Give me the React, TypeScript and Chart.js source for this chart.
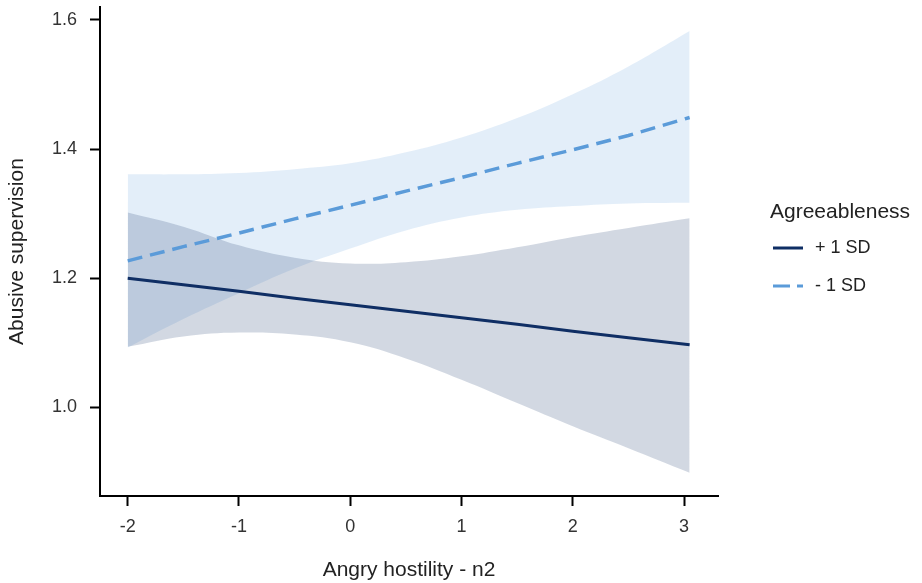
import React, { useEffect, useRef } from "react";
import { Chart, registerables } from "chart.js";

Chart.register(...registerables);

// x positions (Angry hostility - n2)
const xs = [-2, -1.5, -1, -0.5, 0, 0.5, 1, 1.5, 2, 2.5, 3.05];
// Agreeableness +1 SD
const plusLine = [1.2, 1.19, 1.18, 1.169, 1.159, 1.149, 1.139, 1.129, 1.118, 1.108, 1.097];
const plusUpper = [1.302, 1.28, 1.251, 1.232, 1.223, 1.225, 1.234, 1.248, 1.264, 1.278, 1.293];
const plusLower = [1.094, 1.11, 1.116, 1.113, 1.101, 1.076, 1.043, 1.007, 0.971, 0.937, 0.899];
// Agreeableness -1 SD
const minusLine = [1.227, 1.249, 1.27, 1.292, 1.313, 1.335, 1.356, 1.378, 1.399, 1.421, 1.449];
const minusUpper = [1.361, 1.361, 1.363, 1.369, 1.378, 1.395, 1.418, 1.448, 1.485, 1.528, 1.583];
const minusLower = [1.093, 1.137, 1.177, 1.215, 1.246, 1.274, 1.294, 1.306, 1.312, 1.316, 1.317];

const xTicks = [-2, -1, 0, 1, 2, 3];
const yTicks = [1.0, 1.2, 1.4, 1.6];
const seriesLabels = ["+ 1 SD", "- 1 SD"];
const legendTitle = "Agreeableness";
const xTitle = "Angry hostility - n2";
const yTitle = "Abusive supervision";

const FONT = "'Liberation Sans', Arial, Helvetica, sans-serif";
const NAVY = "#0f2e64";
const LIGHT = "#5b9bd9";

const pts = (ys: number[]) => xs.map((x, i) => ({ x, y: ys[i] }));

const legendPlugin = {
  id: "customLegend",
  afterDraw(chart: any) {
    const ctx = chart.ctx;
    ctx.save();
    ctx.fillStyle = "#222";
    ctx.font = `21px ${FONT}`;
    ctx.textBaseline = "alphabetic";
    ctx.textAlign = "left";
    ctx.fillText(legendTitle, 770, 218);
    const items = [
      { label: seriesLabels[0], color: NAVY, dash: [] as number[], y: 248 },
      { label: seriesLabels[1], color: LIGHT, dash: [17, 7], y: 286 },
    ];
    items.forEach((it) => {
      ctx.beginPath();
      ctx.setLineDash(it.dash);
      ctx.strokeStyle = it.color;
      ctx.lineWidth = 3;
      ctx.moveTo(773, it.y);
      ctx.lineTo(803, it.y);
      ctx.stroke();
      ctx.setLineDash([]);
      ctx.fillStyle = "#222";
      ctx.font = `18px ${FONT}`;
      ctx.textBaseline = "middle";
      ctx.fillText(it.label, 815, it.y);
    });
    ctx.restore();
  },
};

const bandBase = {
  borderWidth: 0,
  borderColor: "transparent",
  pointRadius: 0,
  tension: 0.4,
};

export default function App() {
  const ref = useRef<HTMLCanvasElement | null>(null);
  useEffect(() => {
    if (!ref.current) return;
    const chart = new Chart(ref.current, {
      type: "line",
      data: {
        datasets: [
          {
            label: seriesLabels[0],
            data: pts(plusLine),
            borderColor: NAVY,
            borderWidth: 3,
            pointRadius: 0,
            fill: false,
          },
          {
            label: seriesLabels[1],
            data: pts(minusLine),
            borderColor: LIGHT,
            borderWidth: 3.5,
            borderDash: [15, 8],
            pointRadius: 0,
            fill: false,
          },
          {
            ...bandBase,
            label: "plusUpper",
            data: pts(plusUpper),
            backgroundColor: "rgba(30,60,110,0.2)",
            fill: "+1",
          },
          {
            ...bandBase,
            label: "plusLower",
            data: pts(plusLower),
            fill: false,
          },
          {
            ...bandBase,
            label: "minusUpper",
            data: pts(minusUpper),
            backgroundColor: "rgba(91,155,217,0.17)",
            fill: "+1",
          },
          {
            ...bandBase,
            label: "minusLower",
            data: pts(minusLower),
            fill: false,
          },
        ],
      },
      options: {
        animation: false,
        responsive: false,
        layout: { padding: { top: 7, right: 204, left: 0, bottom: 0 } },
        plugins: {
          legend: { display: false },
          tooltip: { enabled: false },
        },
        scales: {
          x: {
            type: "linear",
            min: -2.249,
            max: 3.305,
            afterBuildTicks: (s: any) => {
              s.ticks = xTicks.map((v) => ({ value: v }));
            },
            afterFit: (s: any) => {
              s.height = 87;
              s.paddingLeft = 0;
              s.paddingRight = 0;
            },
            grid: {
              display: true,
              drawOnChartArea: false,
              drawTicks: true,
              tickLength: 10,
              tickWidth: 2,
              tickColor: "#000",
            },
            border: { display: true, color: "#000", width: 2 },
            ticks: {
              font: { family: FONT, size: 18 },
              color: "#333",
              padding: 10,
              callback: (v: any) => String(v),
            },
            title: {
              display: true,
              text: xTitle,
              font: { family: FONT, size: 21 },
              color: "#222",
              padding: { top: 2, bottom: 0 },
            },
          },
          y: {
            type: "linear",
            min: 0.863,
            max: 1.62,
            afterBuildTicks: (s: any) => {
              s.ticks = yTicks.map((v) => ({ value: v }));
            },
            afterFit: (s: any) => {
              s.width = 100;
              s.paddingTop = 0;
              s.paddingBottom = 0;
            },
            grid: {
              display: true,
              drawOnChartArea: false,
              drawTicks: true,
              tickLength: 10,
              tickWidth: 2,
              tickColor: "#000",
            },
            border: { display: true, color: "#000", width: 2 },
            ticks: {
              font: { family: FONT, size: 18 },
              color: "#333",
              padding: 13,
              callback: (v: any) => Number(v).toFixed(1),
            },
            title: {
              display: true,
              text: yTitle,
              font: { family: FONT, size: 21 },
              color: "#222",
              padding: { top: 5, bottom: 0 },
            },
          },
        },
      },
      plugins: [legendPlugin],
    } as any);
    return () => chart.destroy();
  }, []);
  return (
    <div style={{ position: "fixed", left: 0, top: 0, width: 922, height: 583, background: "#fff" }}>
      <canvas ref={ref} width={922} height={583} />
    </div>
  );
}
